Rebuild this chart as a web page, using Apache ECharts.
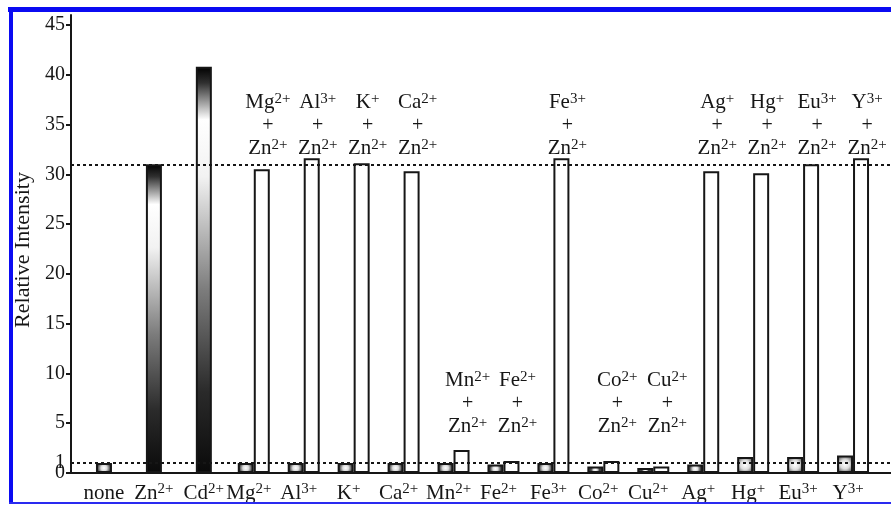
<!DOCTYPE html>
<html>
<head>
<meta charset="utf-8">
<script src="https://cdn.jsdelivr.net/npm/echarts@6/dist/echarts.min.js"></script>
<style>
  html, body { margin: 0; padding: 0; background: #fff; }
  #chart { width: 891px; height: 507px; }
</style>
</head>
<body>
<div id="chart"></div>
<script>
// Relative fluorescence intensity with various metal ions, alone and with Zn2+ added.
const categories = ['none', 'Zn2+', 'Cd2+', 'Mg2+', 'Al3+', 'K+', 'Ca2+', 'Mn2+',
                    'Fe2+', 'Fe3+', 'Co2+', 'Cu2+', 'Ag+', 'Hg+', 'Eu3+', 'Y3+'];
// metal ion alone
const ionOnly = [1.0, 31.0, 40.8, 1.0, 1.0, 1.0, 1.0, 1.0,
                 0.85, 1.0, 0.65, 0.5, 0.85, 1.6, 1.6, 1.75];
// metal ion + Zn2+ (not measured for the first three)
const ionPlusZn = [null, null, null, 30.5, 31.6, 31.1, 30.3, 2.3,
                   1.2, 31.6, 1.2, 0.65, 30.3, 30.1, 31.0, 31.6];
const yLabelValues = [0, 1, 5, 10, 15, 20, 25, 30, 35, 40, 45];
const yTickValues = [0, 5, 10, 15, 20, 25, 30, 35, 40, 45];

const SERIF = '"Liberation Serif", "DejaVu Serif", serif';
const INK = '#161616';
const Y_MAX = 46;
// label anchors (value units) for the "ion + Zn2+" captions
const CAPTION_HIGH = 31.4;
const CAPTION_LOW = 3.5;

const hasPair = ionPlusZn.map(v => v !== null);
const refHigh = ionOnly[categories.indexOf('Zn2+')];
const refLow = ionOnly[categories.indexOf('none')];
// labels that sit on a tick vs. the extra "1" label next to the zero line
const majorLabels = yLabelValues.filter(v => yTickValues.includes(v));
const extraLabels = yLabelValues.filter(v => !yTickValues.includes(v));

function ionRich(name) {
  const m = /^([A-Za-z]+)(\d*\+)$/.exec(name);
  if (!m) return '{b|' + name + '}';
  return '{b|' + m[1] + '}{s|' + m[2] + '}';
}

const richStyles = {
  b: { fontFamily: SERIF, fontSize: 21, color: INK, lineHeight: 23 },
  s: { fontFamily: SERIF, fontSize: 15, color: INK, lineHeight: 14, verticalAlign: 'top' },
  p: { fontFamily: SERIF, fontSize: 20, color: INK, lineHeight: 23 },
  gap: { fontSize: 4, width: 10, lineHeight: 23 }
};

const tickFont = { fontFamily: SERIF, fontSize: 20, color: INK };

// shaded fill of the "ion alone" bars: tall bars shaded top-to-bottom, short ones radially
function shade(v) {
  if (v > 10) {
    return {
      type: 'linear', x: 0, y: 0, x2: 0, y2: 1,
      colorStops: [
        { offset: 0, color: '#000' },
        { offset: 0.04, color: '#303030' },
        { offset: 0.13, color: '#ffffff' },
        { offset: 0.27, color: '#f2f2f2' },
        { offset: 0.55, color: '#7c7c7c' },
        { offset: 0.8, color: '#2a2a2a' },
        { offset: 1, color: '#0a0a0a' }
      ]
    };
  }
  return {
    type: 'radial', x: 0.5, y: 0.5, r: 0.65,
    colorStops: [
      { offset: 0, color: '#ffffff' },
      { offset: 0.45, color: '#dcdcdc' },
      { offset: 1, color: '#3c3c3c' }
    ]
  };
}

const singleData = ionOnly.map((v, i) => hasPair[i] ? '-' : { value: v, itemStyle: { color: shade(v) } });
const aloneData = ionOnly.map((v, i) => hasPair[i] ? { value: v, itemStyle: { color: shade(v) } } : '-');
const withZnData = ionPlusZn.map(v => v === null ? '-' : v);
const captionData = ionPlusZn.map((v, i) => v === null ? '-' : [i, v > 10 ? CAPTION_HIGH : CAPTION_LOW]);

const barBorder = { borderColor: INK, borderWidth: 2 };

const option = {
  backgroundColor: '#fff',
  animation: false,
  graphic: [
    { type: 'rect', shape: { x: 8, y: 7, width: 883, height: 5 }, style: { fill: '#0b0bf2' }, z: 100 },
    { type: 'rect', shape: { x: 9, y: 7, width: 4, height: 497 }, style: { fill: '#0b0bf2' }, z: 100 },
    { type: 'rect', shape: { x: 9, y: 502, width: 882, height: 2 }, style: { fill: '#2a2af0' }, z: 100 }
  ],
  grid: [
    { left: 71, right: 0, top: 15, bottom: 34 },
    { left: 79, right: 13, top: 15, bottom: 34 }
  ],
  xAxis: [
    {
      type: 'category', gridIndex: 1, data: categories,
      axisLine: { show: false }, axisTick: { show: false }, splitLine: { show: false },
      axisLabel: {
        interval: 0, margin: 9, hideOverlap: false,
        formatter: (val, idx) => ionRich(val) + (hasPair[idx] ? '{gap| }' : ''),
        rich: richStyles
      }
    },
    {
      type: 'category', gridIndex: 1, data: categories, show: false
    },
    {
      type: 'value', gridIndex: 0, min: 0, max: 1,
      axisLine: { show: true, lineStyle: { color: INK, width: 2 } },
      axisTick: { show: false }, axisLabel: { show: false }, splitLine: { show: false }
    }
  ],
  yAxis: [
    {
      type: 'value', gridIndex: 0, min: 0, max: Y_MAX,
      name: 'Relative Intensity', nameLocation: 'middle', nameGap: 33,
      nameTextStyle: { fontFamily: SERIF, fontSize: 22, color: INK, padding: [0, 12, 0, 0] },
      axisLine: { show: true, lineStyle: { color: INK, width: 2 } },
      axisTick: { show: true, length: 5, customValues: yTickValues, lineStyle: { color: INK, width: 2 } },
      axisLabel: Object.assign({ customValues: majorLabels, margin: 6, showMinLabel: true }, tickFont),
      splitLine: { show: false }
    },
    {
      // value axis of the bar grid; only carries the extra "1" label
      type: 'value', gridIndex: 1, min: 0, max: Y_MAX, position: 'left', offset: 8,
      axisLine: { show: false }, axisTick: { show: false }, splitLine: { show: false },
      axisLabel: Object.assign({ customValues: extraLabels, margin: 6, showMinLabel: true, showMaxLabel: true }, tickFont)
    }
  ],
  series: [
    {
      name: 'reference levels', type: 'line', xAxisIndex: 2, yAxisIndex: 0, data: [], z: 1,
      markLine: {
        silent: true, symbol: 'none', label: { show: false },
        lineStyle: { color: INK, width: 2, type: [3, 3] },
        data: [{ yAxis: refHigh }, { yAxis: refLow }]
      }
    },
    {
      name: 'ion alone (single)', type: 'bar', xAxisIndex: 1, yAxisIndex: 1, z: 2,
      data: singleData, barWidth: 16, itemStyle: barBorder
    },
    {
      name: 'ion alone', type: 'bar', xAxisIndex: 0, yAxisIndex: 1, z: 2,
      data: aloneData, barWidth: 16, barGap: '0%', itemStyle: barBorder
    },
    {
      name: 'ion + Zn2+', type: 'bar', xAxisIndex: 0, yAxisIndex: 1, z: 2,
      data: withZnData, barWidth: 16, barGap: '0%',
      itemStyle: { color: '#fff', borderColor: INK, borderWidth: 2 }
    },
    {
      name: 'captions', type: 'scatter', xAxisIndex: 0, yAxisIndex: 1, z: 3,
      data: captionData, symbolSize: 0, silent: true,
      itemStyle: { opacity: 1 },
      label: {
        show: true, position: 'top', distance: 0, offset: [14, 0], align: 'center',
        opacity: 1, color: INK,
        formatter: p => ionRich(categories[p.dataIndex]) + '\n{p|+}\n' + ionRich('Zn2+'),
        rich: richStyles
      }
    }
  ]
};

const chart = echarts.init(document.getElementById('chart'), null, { renderer: 'canvas' });
chart.setOption(option);
</script>
</body>
</html>
